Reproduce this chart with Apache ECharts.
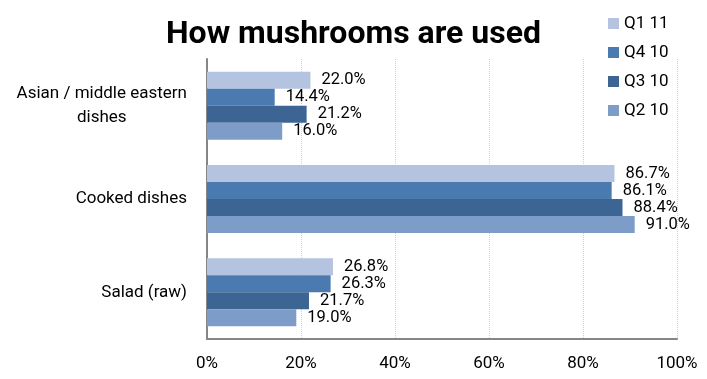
<!DOCTYPE html>
<html>
<head>
<meta charset="utf-8">
<script src="https://cdn.jsdelivr.net/npm/echarts@6/dist/echarts.min.js"></script>
<style>
html,body{margin:0;padding:0;background:#fff;}
#chart{width:707px;height:379px;}
</style>
</head>
<body>
<div id="chart"></div>
<script>
var categories = ['Asian / middle eastern\ndishes', 'Cooked dishes', 'Salad (raw)'];
var seriesNames = ['Q1 11', 'Q4 10', 'Q3 10', 'Q2 10'];
var q1_11 = [22.0, 86.7, 26.8];
var q4_10 = [14.4, 86.1, 26.3];
var q3_10 = [21.2, 88.4, 21.7];
var q2_10 = [16.0, 91.0, 19.0];
var seriesValues = [q1_11, q4_10, q3_10, q2_10];
var colors = ['#B4C3DF', '#4A7AB0', '#3D6594', '#7E9CC8'];
var xTicks = [0, 20, 40, 60, 80, 100];

var FONT = 'Roboto';
var chart = echarts.init(document.getElementById('chart'), null, {renderer: 'canvas'});
var option = {
  backgroundColor: '#fff',
  animation: false,
  title: {
    text: 'How mushrooms are used',
    left: 'center',
    top: 14,
    textStyle: {fontFamily: FONT, fontSize: 32, fontWeight: 'bold', color: '#000'}
  },
  legend: {
    orient: 'vertical',
    left: 603, top: 10,
    itemWidth: 11, itemHeight: 11, itemGap: 12,
    icon: 'rect',
    data: seriesNames,
    textStyle: {fontFamily: FONT, fontSize: 17, color: '#000'}
  },
  grid: {left: 207, right: 30, top: 59, bottom: 40, containLabel: false},
  xAxis: {
    type: 'value',
    min: xTicks[0], max: xTicks[xTicks.length - 1], interval: 20,
    axisLine: {show: true, lineStyle: {color: '#868686', width: 2}},
    axisTick: {show: false},
    axisLabel: {formatter: '{value}%', margin: 16, fontFamily: FONT, fontSize: 17, color: '#000'},
    splitLine: {show: true, lineStyle: {color: '#cfcfcf', type: 'dotted', width: 1}}
  },
  yAxis: {
    type: 'category',
    inverse: true,
    data: categories,
    axisLine: {show: true, lineStyle: {color: '#868686', width: 2}},
    axisTick: {show: false},
    axisLabel: {
      margin: 20, color: '#000', fontFamily: FONT, fontSize: 17,
      formatter: function (v) {
        return v.split('\n').map(function (s) { return '{c|' + s + '}'; }).join('\n');
      },
      rich: {c: {align: 'center', fontFamily: FONT, fontSize: 17, lineHeight: 24, color: '#000'}}
    }
  },
  series: seriesNames.map(function (name, i) {
    return {
      name: name,
      type: 'bar',
      data: seriesValues[i],
      barWidth: 17,
      barGap: '0%',
      itemStyle: {color: colors[i]},
      label: {
        show: true, position: 'right', distance: 11,
        formatter: function (p) { return p.value.toFixed(1) + '%'; },
        fontFamily: FONT, fontSize: 16.5, color: '#000'
      }
    };
  })
};
chart.setOption(option);
</script>
</body>
</html>
